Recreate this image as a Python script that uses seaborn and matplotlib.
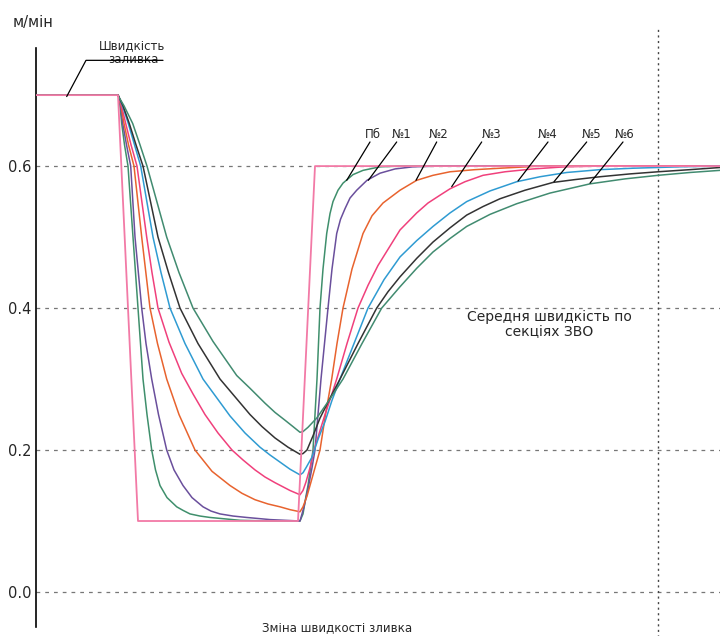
import matplotlib
matplotlib.use('Agg')
import matplotlib.pyplot as plt
import pandas as pd
import seaborn as sns

# time in arbitrary units (no scale on the chart), speed in m/min
# casting speed change
t_cast = [0, 82, 102, 262, 279, 684]
v_cast = [0.7, 0.7, 0.1, 0.1, 0.6, 0.6]

# average speed per secondary cooling zone section
t_pb = [0, 82, 82.8, 84, 85.7, 88.5, 92, 97, 102, 107, 111, 115.7, 119.5, 124, 131, 140.7, 147, 154, 164, 174,
        189, 204, 234, 264, 267, 270, 272, 274.5, 277, 279, 281, 282.5, 284, 287, 290.7, 294, 297, 302, 307, 317,
        327, 344, 364, 684]
v_pb = [0.7, 0.7, 0.697, 0.685, 0.66, 0.63, 0.6, 0.5, 0.4, 0.3, 0.25, 0.2, 0.172, 0.15, 0.133, 0.12, 0.115, 0.11, 0.107, 0.105,
        0.103, 0.101, 0.1, 0.1, 0.11, 0.135, 0.15, 0.175, 0.2, 0.25, 0.3, 0.35, 0.4, 0.455, 0.505, 0.533, 0.55, 0.566, 0.576, 0.588,
        0.594, 0.599, 0.6, 0.6]

t_n1 = [0, 82, 83, 84.5, 86.7, 90.5, 94.7, 99, 105.7, 110, 115.7, 122.5, 130.7, 138, 147, 156, 167, 175, 184, 197,
        210.7, 234, 264, 268, 272, 276, 279, 282, 285, 288.5, 292, 296, 300.7, 304.5, 309, 314, 320.7, 331, 344, 359,
        377, 404, 684]
v_n1 = [0.7, 0.7, 0.697, 0.685, 0.66, 0.63, 0.6, 0.5, 0.4, 0.35, 0.3, 0.25, 0.2, 0.172, 0.15, 0.133, 0.12, 0.114, 0.11, 0.107,
        0.105, 0.102, 0.1, 0.12, 0.145, 0.175, 0.2, 0.25, 0.3, 0.35, 0.4, 0.455, 0.505, 0.525, 0.54, 0.555, 0.566, 0.58, 0.59, 0.596,
        0.599, 0.6, 0.6]

t_n2 = [0, 82, 83, 85, 88, 92.5, 98, 105.7, 114, 121.5, 130.7, 143, 159, 176, 194, 206, 219, 232, 244, 254,
        264, 267, 271, 276, 280, 284, 289.5, 295.7, 301, 307, 316, 327, 336, 347, 364, 380.7, 397, 414, 439, 464,
        504, 684]
v_n2 = [0.7, 0.7, 0.697, 0.685, 0.66, 0.63, 0.6, 0.5, 0.4, 0.35, 0.3, 0.25, 0.2, 0.17, 0.15, 0.139, 0.13, 0.124, 0.12, 0.116,
        0.113, 0.12, 0.135, 0.16, 0.18, 0.2, 0.25, 0.3, 0.35, 0.4, 0.455, 0.505, 0.53, 0.548, 0.566, 0.58, 0.587, 0.592, 0.595, 0.597,
        0.6, 0.6]

t_n3 = [0, 82, 83, 85.5, 89.7, 95, 101, 110.7, 116, 122, 133, 145.7, 157, 169, 182, 196, 207, 219, 229, 239, 254,
        264, 267, 270, 274, 278, 283.5, 289, 295, 300.7, 311, 322, 332, 342, 353, 364, 380.7, 392, 404, 414, 429,
        447, 469, 497, 529, 564, 684]
v_n3 = [0.7, 0.7, 0.697, 0.685, 0.66, 0.63, 0.6, 0.5, 0.45, 0.4, 0.352, 0.308, 0.279, 0.25, 0.224, 0.2, 0.186, 0.172, 0.162, 0.154, 0.143,
        0.137, 0.143, 0.155, 0.175, 0.2, 0.225, 0.25, 0.275, 0.3, 0.35, 0.4, 0.432, 0.46, 0.485, 0.51, 0.534, 0.548, 0.559, 0.568, 0.578,
        0.587, 0.592, 0.596, 0.599, 0.6, 0.6]

t_n4 = [0, 82, 83, 86.5, 92.3, 98.5, 104.7, 117, 125, 134, 149, 167, 180, 194, 209, 224, 234, 244, 254, 264, 267,
        270, 276, 282, 289, 296, 304, 318, 332, 348, 364, 380.7, 397, 414, 430.7, 454, 480.7, 504, 530.7, 564, 597,
        644, 684]
v_n4 = [0.7, 0.7, 0.697, 0.685, 0.66, 0.63, 0.6, 0.5, 0.45, 0.4, 0.35, 0.3, 0.275, 0.248, 0.224, 0.204, 0.193, 0.183, 0.173, 0.165, 0.168,
        0.175, 0.19, 0.215, 0.24, 0.27, 0.3, 0.35, 0.4, 0.44, 0.472, 0.495, 0.515, 0.534, 0.55, 0.565, 0.578, 0.585, 0.591, 0.595, 0.597,
        0.599, 0.6]

t_n5 = [0, 82, 83, 87, 93.3, 100, 107, 122, 132.5, 144, 162, 184, 199, 214, 226, 239, 252, 264, 267, 271, 277,
        284, 294, 304, 322, 340.7, 352, 364, 380.7, 397, 414, 430.7, 447, 464, 489, 517, 539, 564, 594, 622, 654,
        684]
v_n5 = [0.7, 0.7, 0.697, 0.685, 0.66, 0.63, 0.6, 0.5, 0.45, 0.4, 0.35, 0.3, 0.275, 0.25, 0.233, 0.217, 0.204, 0.194, 0.195, 0.2, 0.22,
        0.245, 0.273, 0.3, 0.35, 0.4, 0.423, 0.444, 0.47, 0.493, 0.513, 0.531, 0.543, 0.554, 0.566, 0.577, 0.581, 0.585, 0.589, 0.592, 0.595,
        0.598]

t_n6 = [0, 82, 83, 88, 96.7, 104, 111, 130.7, 143, 157, 177, 200.7, 214, 229, 239, 249, 257, 264, 267, 272, 280.7,
        294, 307, 326, 345.7, 364, 380.7, 397, 414, 430.7, 454, 480.7, 514, 554, 589, 622, 654, 684]
v_n6 = [0.7, 0.7, 0.697, 0.685, 0.66, 0.63, 0.6, 0.5, 0.45, 0.4, 0.353, 0.305, 0.287, 0.266, 0.253, 0.242, 0.233, 0.225, 0.226, 0.232, 0.245,
        0.272, 0.3, 0.35, 0.4, 0.43, 0.456, 0.479, 0.498, 0.515, 0.532, 0.547, 0.562, 0.575, 0.582, 0.587, 0.591, 0.594]

names = ['Пб', '№1', '№2', '№3', '№4', '№5', '№6']
series_t = [t_pb, t_n1, t_n2, t_n3, t_n4, t_n5, t_n6]
series_v = [v_pb, v_n1, v_n2, v_n3, v_n4, v_n5, v_n6]
colors = ['#3f8f6c', '#6a4f9c', '#e8632e', '#f0407c', '#2f9bd2', '#333333', '#418b70']

rows = []
for name, ts, vs in zip(names, series_t, series_v):
    for t, v in zip(ts, vs):
        rows.append((name, t, v))
df = pd.DataFrame(rows, columns=['series', 't', 'v'])

sns.set_style('white')
plt.rcParams['font.family'] = ['DejaVu Sans']

fig = plt.figure(figsize=(7.2, 6.36), dpi=100)
ax = fig.add_axes([36 / 720, 0, 684 / 720, 1])

# grid
for g in [0.0, 0.2, 0.4, 0.6]:
    ax.axhline(g, color='#777777', lw=0.9, ls=(0, (3, 4)), zorder=1)
ax.plot([622, 622], [-0.1, 0.796], color='#444444', lw=1.0, ls=(0, (1.5, 2.5)), zorder=1)

sns.lineplot(data=df, x='t', y='v', hue='series', hue_order=names,
             palette=dict(zip(names, colors)), estimator=None, legend=False,
             linewidth=1.1, ax=ax, zorder=3)
sns.lineplot(x=t_cast, y=v_cast, color='#f27aa6', linewidth=1.3, ax=ax, zorder=4)

ax.set_xlim(0, 684)
ax.set_ylim(-0.062, 0.834)
ax.set_xlabel('')
ax.set_ylabel('')
ax.set_xticks([])
ax.set_yticks([0.0, 0.2, 0.4, 0.6])
ax.set_yticklabels(['0.0', '0.2', '0.4', '0.6'])
ax.tick_params(axis='y', length=0, pad=3, labelsize=10.5)
for s in ['top', 'right', 'bottom']:
    ax.spines[s].set_visible(False)
ax.spines['left'].set_bounds(-0.049, 0.766)
ax.spines['left'].set_color('black')
ax.spines['left'].set_linewidth(1.2)

# series labels with leader lines
lab_x = [337, 365.7, 403, 455.7, 512, 555.7, 589]
lead_start = [334, 360.7, 400.7, 445.7, 512, 550.7, 587]
lead_end = [(310.7, 0.580), (332.3, 0.580), (380, 0.580), (415.7, 0.571),
            (482, 0.579), (518, 0.578), (554, 0.576)]
for name, lx, ls_, le in zip(names, lab_x, lead_start, lead_end):
    ax.text(lx, 0.645, name, ha='center', va='center', fontsize=8.5, zorder=5)
    ax.plot([ls_, le[0]], [0.634, le[1]], color='black', lw=0.9, zorder=5)

# casting speed label
ax.plot([30.7, 50, 127], [0.698, 0.749, 0.749], color='black', lw=0.9, zorder=5)
ax.text(95.7, 0.770, 'Швидкість', ha='center', va='center', fontsize=8.5)
ax.text(97, 0.750, 'заливка', ha='center', va='center', fontsize=8.5)

ax.text(513, 0.377, 'Середня швидкість по\nсекціях ЗВО', ha='center', va='center',
        fontsize=10, linespacing=1.15)

fig.text(33 / 720, 1 - 22.7 / 636, 'м/мін', ha='center', va='center', fontsize=10.5)
fig.text(337 / 720, 1 - 628 / 636, 'Зміна швидкості зливка', ha='center', va='center',
         fontsize=8.5)

fig.savefig('out.png', dpi=100)
